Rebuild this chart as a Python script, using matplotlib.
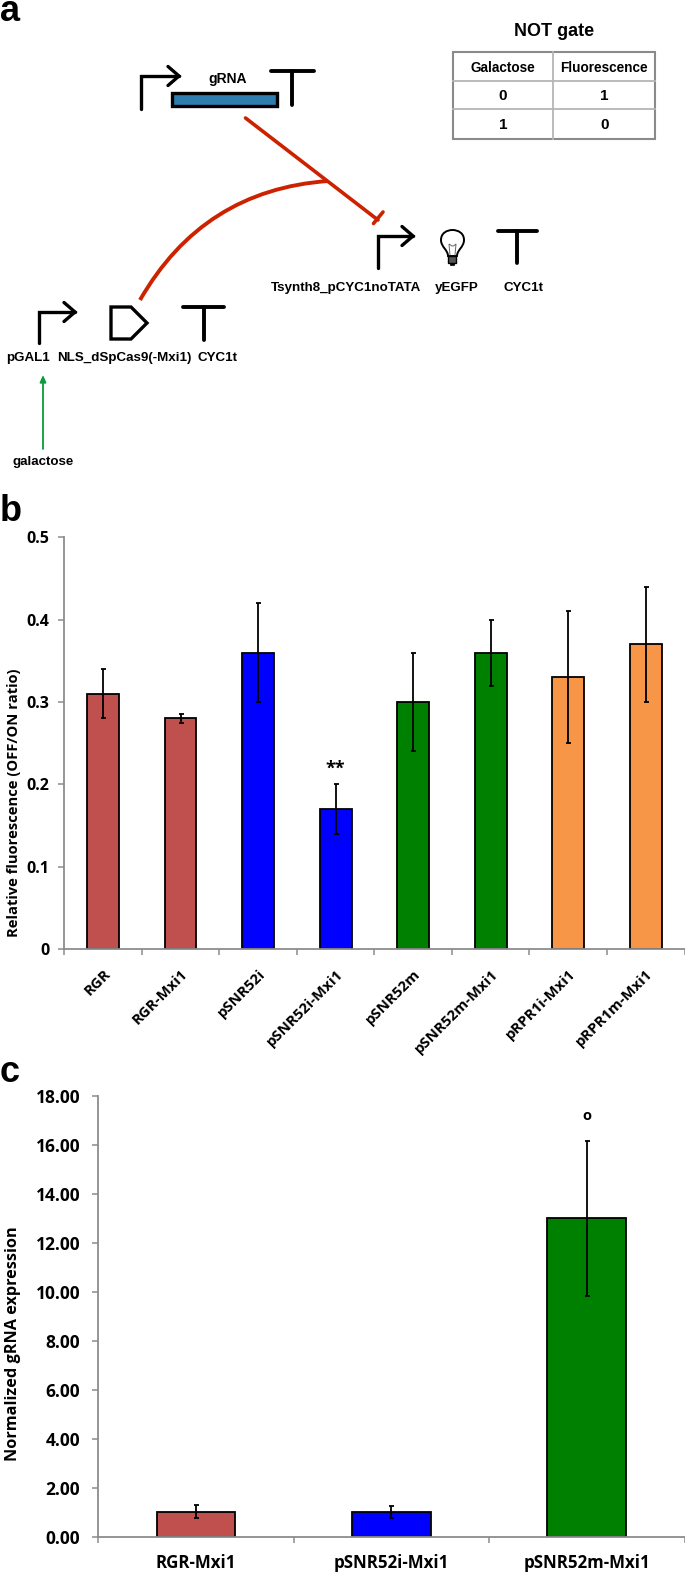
import matplotlib
matplotlib.use("Agg")
import matplotlib.pyplot as plt
from matplotlib.patches import Rectangle, Polygon, PathPatch
from matplotlib.path import Path

W, H = 685, 1572
HEAD = "Liberation Sans"
BODY = "Open Sans"

# ---- data: panel b
b_labels = ["RGR", "RGR-Mxi1", "pSNR52i", "pSNR52i-Mxi1", "pSNR52m", "pSNR52m-Mxi1", "pRPR1i-Mxi1", "pRPR1m-Mxi1"]
b_values = [0.31, 0.28, 0.36, 0.17, 0.30, 0.36, 0.33, 0.37]
b_errors = [0.03, 0.005, 0.06, 0.03, 0.06, 0.04, 0.08, 0.07]
b_colors = ["#C0504D", "#C0504D", "#0000FF", "#0000FF", "#008000", "#008000", "#F79646", "#F79646"]
b_ticks = [0, 0.1, 0.2, 0.3, 0.4, 0.5]
b_ticklabels = ["0", "0.1", "0.2", "0.3", "0.4", "0.5"]

# ---- data: panel c
c_labels = ["RGR-Mxi1", "pSNR52i-Mxi1", "pSNR52m-Mxi1"]
c_values = [1.0, 1.0, 13.0]
c_err_low = [0.25, 0.25, 3.15]
c_err_high = [0.30, 0.27, 3.15]
c_colors = ["#C0504D", "#0000FF", "#008000"]
c_ticks = [0, 2, 4, 6, 8, 10, 12, 14, 16, 18]

# ---- data: truth table
table_cols = ["Galactose", "Fluorescence"]
table_rows = [["0", "1"], ["1", "0"]]

fig = plt.figure(figsize=(W / 100, H / 100), dpi=100, facecolor="white")


def px_axes(left, right, top, bottom):
    return fig.add_axes([left / W, 1 - bottom / H, (right - left) / W, (bottom - top) / H])


# ---------- overlay in pixel coordinates for schematic and panel letters
ov = fig.add_axes([0, 0, 1, 1], zorder=5)
ov.set_xlim(0, W)
ov.set_ylim(H, 0)
ov.axis("off")


def line(pts, color="black", lw=2.4, **kw):
    xs, ys = zip(*pts)
    ov.plot(xs, ys, color=color, lw=lw, solid_capstyle="round", solid_joinstyle="miter", **kw)


def promoter(x, ybot, ytop, xend, hd=11, hh=9.5):
    line([(x, ybot), (x, ytop), (xend, ytop)])
    line([(xend - hd, ytop - hh), (xend, ytop), (xend - hd, ytop + hh)])


def terminator(x0, x1, ytop, ybot):
    line([(x0, ytop), (x1, ytop)], lw=2.8)
    line([((x0 + x1) / 2, ytop), ((x0 + x1) / 2, ybot)], lw=2.8)


def label(x, y, s, size=9.6):
    ov.text(x, y, s, ha="center", va="center", fontsize=size, fontweight="bold", family=HEAD)


for s, y in zip("abc", [21, 521, 1082]):
    ov.text(0, y, s, ha="left", va="baseline", fontsize=26, fontweight="bold", family=HEAD)

# gRNA cassette
promoter(141.5, 109, 76, 179)
ov.add_patch(Rectangle((172, 93), 105, 13, facecolor="#2E7DAF", edgecolor="black", lw=2.4))
terminator(271, 314, 71, 105)
label(228, 79, "gRNA", 10)

# repression lines
RED = "#CC2200"
line([(245.5, 118), (378, 220)], color=RED, lw=2.6)
line([(373.5, 223.5), (383, 212)], color=RED, lw=2.6)
ov.add_patch(PathPatch(Path([(140, 300), (203, 190), (328, 181)], [Path.MOVETO, Path.CURVE3, Path.CURVE3]),
                       fill=False, edgecolor=RED, lw=2.8))

# reporter
promoter(378, 268, 236, 413)
terminator(498, 537, 231, 263)
label(346, 288, "Tsynth8_pCYC1noTATA")
label(456.5, 288, "yEGFP")
label(524, 288, "CYC1t")
# bulb
C4 = Path.CURVE4
ov.add_patch(PathPatch(Path(
    [(448, 256), (448, 250), (441, 247), (441, 240), (441, 233), (447, 230), (452.5, 230),
     (458, 230), (464, 233), (464, 240), (464, 247), (457, 250), (457, 256), (448, 256)],
    [Path.MOVETO, C4, C4, C4, C4, C4, C4, C4, C4, C4, C4, C4, C4, Path.CLOSEPOLY]),
    facecolor="white", edgecolor="black", lw=1.4))
ov.add_patch(Rectangle((448.5, 256), 8, 7, facecolor="#555555", edgecolor="black", lw=1))
ov.add_patch(Rectangle((450.5, 263), 4, 2, facecolor="black", edgecolor="black", lw=0.5))
line([(450, 255), (449, 244), (452, 246), (453.5, 246), (456, 244), (455, 255)], lw=0.7, color="#666666")

# dCas9 cassette
promoter(39, 343, 312, 75)
ov.add_patch(Polygon([(111, 307), (131, 307), (147, 323), (131, 339), (111, 339)], closed=True,
                     fill=False, edgecolor="black", lw=2.4))
terminator(183.5, 224, 307, 340)
label(28, 358, "pGAL1")
label(124, 358, "NLS_dSpCas9(-Mxi1)")
label(217.5, 358, "CYC1t")

# galactose induction
ov.annotate("", xy=(43, 375), xytext=(43, 449),
            arrowprops=dict(arrowstyle="-|>,head_width=0.18,head_length=0.4", color="#0B9A3C", lw=1.3, shrinkA=0, shrinkB=0))
label(43, 462, "galactose")

# truth table
TL, TM, TR = 452.6, 553.5, 655
TT, R1, R2, TB = 52, 81, 109, 139
ov.add_patch(Rectangle((TL, TT), TR - TL, TB - TT, fill=False, edgecolor="#8A8A8A", lw=1.5))
for y in (R1, R2):
    ov.plot([TL, TR], [y, y], color="#B5B5B5", lw=1.3)
ov.plot([TM, TM], [TT, TB], color="#B5B5B5", lw=1.3)
label((TL + TR) / 2, 32, "NOT gate", 13)
for j, col in enumerate(table_cols):
    xc = (TL + TM) / 2 if j == 0 else (TM + TR) / 2
    label(xc, (TT + R1) / 2 + 1, col, 9.8)
    for i, row in enumerate(table_rows):
        label(xc, [(R1 + R2) / 2 + 1, (R2 + TB) / 2 + 1][i], row[j], 11)

AX = "#8C8C8C"
ERR = dict(ecolor="black", elinewidth=1.3, capsize=1.8, capthick=1.3)


def style(ax, pad):
    for s in ("top", "right"):
        ax.spines[s].set_visible(False)
    for s in ("left", "bottom"):
        ax.spines[s].set_color(AX)
        ax.spines[s].set_linewidth(1.3)
    ax.tick_params(axis="both", which="both", color=AX, width=1.1, length=4)
    ax.tick_params(axis="y", pad=pad)
    ax.patch.set_alpha(0)


# ---------- panel b
axb = px_axes(64.3, 684.5, 537.3, 949)
xb = range(len(b_values))
axb.bar(xb, b_values, width=0.41, color=b_colors, edgecolor="black", linewidth=1.3, yerr=b_errors, error_kw=ERR)
axb.set_xlim(-0.5, 7.5)
axb.set_ylim(0, 0.5)
axb.set_yticks(b_ticks)
axb.set_yticklabels(b_ticklabels, fontsize=11.5, fontweight="bold", family=BODY)
axb.set_xticks([i - 0.5 for i in range(9)])
axb.set_xticklabels([])
for i, s in enumerate(b_labels):
    axb.annotate(s, xy=(i, 0), xycoords=("data", "axes fraction"), xytext=(0, -13), textcoords="offset points",
                 rotation=45, ha="right", va="top", rotation_mode="anchor", fontsize=10.7, fontweight="bold", family=BODY)
axb.text(3, 0.2186, "**", ha="center", va="center", fontsize=13, fontweight="bold", family=BODY)
axb.set_ylabel("Relative fluorescence (OFF/ON ratio)", fontsize=10.6, fontweight="bold", family=BODY)
axb.yaxis.set_label_coords(-43 / 620, 0.355)
style(axb, 6.5)

# ---------- panel c
axc = px_axes(98.3, 684.5, 1096, 1536.7)
xc = range(len(c_values))
axc.bar(xc, c_values, width=0.403, color=c_colors, edgecolor="black", linewidth=1.3,
        yerr=[c_err_low, c_err_high], error_kw=ERR)
axc.set_xlim(-0.5, 2.5)
axc.set_ylim(0, 18)
axc.set_yticks(c_ticks)
axc.set_yticklabels([f"{v:.2f}" for v in c_ticks], fontsize=12.5, fontweight="bold", family=BODY)
axc.set_xticks([-0.5, 0.5, 1.5, 2.5])
axc.set_xticklabels([])
for i, s in enumerate(c_labels):
    axc.annotate(s, xy=(i, 0), xycoords=("data", "axes fraction"), xytext=(0, -12.5), textcoords="offset points",
                 ha="center", va="top", fontsize=12.2, fontweight="bold", family=BODY)
axc.text(2, 17.2, "o", ha="center", va="center", fontsize=10.5, fontweight="bold", family=BODY)
axc.set_ylabel("Normalized gRNA expression", fontsize=11.7, fontweight="bold", family=BODY)
axc.yaxis.set_label_coords(-77 / 586, 0.437)
style(axc, 9)

fig.savefig("out.png", dpi=100, facecolor="white")
